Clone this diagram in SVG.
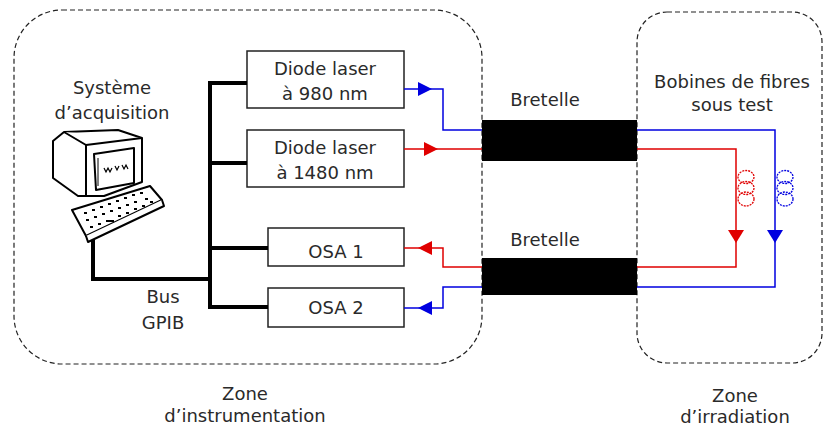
<svg xmlns="http://www.w3.org/2000/svg" width="824" height="428" viewBox="0 0 824 428">
  <defs>
    <style>
      .zone { fill: none; stroke: #222; stroke-width: 1.2; stroke-dasharray: 5 3; }
      .box { fill: #fff; stroke: #222; stroke-width: 1.5; }
      .bus { fill: none; stroke: #000; stroke-width: 4; stroke-linejoin: miter; }
      .lbl { font-family: "DejaVu Sans", Verdana, sans-serif; font-size: 18px; fill: #2a2a2a; text-anchor: middle; }
      .blue { fill: none; stroke: #0000e0; stroke-width: 1.5; }
      .red { fill: none; stroke: #e00000; stroke-width: 1.5; }
      .coilb { fill: none; stroke: #0000e0; stroke-width: 1.3; stroke-dasharray: 2 1; }
      .coilr { fill: none; stroke: #e00000; stroke-width: 1.3; stroke-dasharray: 2 1; }
      .pc { fill: #fff; stroke: #000; stroke-width: 2; stroke-linejoin: round; }
      .key { fill: #000; }
    </style>
  </defs>

  <rect width="824" height="428" fill="#fff"/>

  <!-- zones -->
  <g id="zone-instrumentation">
    <rect class="zone" x="14" y="10" width="468" height="354" rx="48" ry="48"/>
    <text class="lbl" x="245" y="400">Zone</text>
    <text class="lbl" x="245" y="422">d’instrumentation</text>
  </g>
  <g id="zone-irradiation">
    <rect class="zone" x="637" y="12" width="185" height="351" rx="30" ry="30"/>
    <text class="lbl" x="735" y="402">Zone</text>
    <text class="lbl" x="735" y="423">d’irradiation</text>
  </g>

  <!-- computer -->
  <g id="systeme-acquisition">
    <text class="lbl" x="112" y="94">Système</text>
    <text class="lbl" x="112" y="119">d’acquisition</text>
    <!-- monitor housing -->
    <path class="pc" d="M53 141 L64 132 L118 130 L142 138 L142 182 L104 196 L78 196 L53 178 Z"/>
    <path class="pc" d="M64 132 L86 145 L142 138"/>
    <path class="pc" d="M86 145 L86 196"/>
    <!-- screen -->
    <path class="pc" d="M94 154 L134 148 L134 183 L96 190 Z"/>
    <path fill="none" stroke="#000" stroke-width="1" d="M98 158 L98 186"/>
    <path fill="none" stroke="#000" stroke-width="1.2" d="M104 168 l2 4 l2 -4 l2 4 l2 -4 M115 166 l2 4 l2 -4 M122 165 l2 4 l2 -4 l2 4"/>
    <!-- keyboard -->
    <path class="pc" d="M72 210 L150 186 L162 200 L86 236 Z"/>
    <path class="pc" d="M86 236 L88 242 L164 206 L162 200"/>
    <g class="key">
      <rect x="84" y="212" width="3" height="2"/><rect x="92" y="209" width="3" height="2"/><rect x="100" y="206" width="3" height="2"/>
      <rect x="108" y="203" width="3" height="2"/><rect x="116" y="200" width="3" height="2"/><rect x="124" y="197" width="3" height="2"/>
      <rect x="132" y="194" width="3" height="2"/><rect x="140" y="192" width="3" height="2"/>
      <rect x="86" y="219" width="3" height="2"/><rect x="94" y="216" width="3" height="2"/><rect x="102" y="213" width="3" height="2"/>
      <rect x="110" y="210" width="3" height="2"/><rect x="118" y="207" width="3" height="2"/><rect x="126" y="204" width="3" height="2"/>
      <rect x="134" y="201" width="3" height="2"/><rect x="145" y="198" width="3" height="2"/>
      <rect x="90" y="226" width="3" height="2"/><rect x="98" y="223" width="3" height="2"/><rect x="106" y="220" width="8" height="2"/>
      <rect x="118" y="215" width="3" height="2"/><rect x="126" y="212" width="3" height="2"/><rect x="134" y="208" width="3" height="2"/>
      <rect x="142" y="205" width="3" height="2"/><rect x="150" y="201" width="3" height="2"/>
    </g>
  </g>

  <!-- instruments -->
  <g id="diode-980">
    <rect class="box" x="247" y="51" width="157" height="57"/>
    <text class="lbl" x="325" y="75">Diode laser</text>
    <text class="lbl" x="325" y="100">à 980 nm</text>
  </g>
  <g id="diode-1480">
    <rect class="box" x="247" y="130" width="157" height="57"/>
    <text class="lbl" x="325" y="154">Diode laser</text>
    <text class="lbl" x="325" y="179">à 1480 nm</text>
  </g>
  <g id="osa-1">
    <rect class="box" x="268" y="228" width="136" height="38"/>
    <text class="lbl" x="336" y="258">OSA 1</text>
  </g>
  <g id="osa-2">
    <rect class="box" x="268" y="288" width="136" height="39"/>
    <text class="lbl" x="336" y="314">OSA 2</text>
  </g>

  <!-- connectors -->
  <g id="connecteurs">
    <!-- GPIB bus -->
    <path class="bus" d="M247 83 H210 V307 H268"/>
    <path class="bus" d="M210 163 H247"/>
    <path class="bus" d="M210 248 H268"/>
    <path class="bus" d="M93 240 V279 H210"/>

    <!-- 980 nm pump -->
    <path class="blue" d="M404 89 H443 V130 H637 H775 V287 H637 H482 H443 V308 H404"/>
    <!-- 1480 nm pump -->
    <path class="red" d="M404 149 H482 H637 H736 V267 H637 H482 H443 V248 H404"/>

    <!-- arrowheads -->
    <polygon points="418,82 432,89 418,96" fill="#0000e0"/>
    <polygon points="424,142 438,149 424,156" fill="#e00000"/>
    <polygon points="432,241 418,248 432,255" fill="#e00000"/>
    <polygon points="432,301 418,308 432,315" fill="#0000e0"/>
    <polygon points="728,230 744,230 736,243" fill="#e00000"/>
    <polygon points="767,230 783,230 775,243" fill="#0000e0"/>
  </g>

  <!-- patch cords -->
  <g id="bretelle-1">
    <text class="lbl" x="545" y="106">Bretelle</text>
    <rect x="482" y="120" width="155" height="41" fill="#000"/>
  </g>
  <g id="bretelle-2">
    <text class="lbl" x="545" y="246">Bretelle</text>
    <rect x="482" y="258" width="155" height="37" fill="#000"/>
  </g>

  <!-- fibre spools -->
  <g id="bobines">
    <text class="lbl" x="732" y="88">Bobines de fibres</text>
    <text class="lbl" x="732" y="111">sous test</text>
    <g class="coilr">
      <ellipse cx="746" cy="177" rx="8" ry="6.5"/>
      <ellipse cx="746" cy="188" rx="8" ry="6.5"/>
      <ellipse cx="746" cy="199" rx="8" ry="7"/>
    </g>
    <g class="coilb">
      <ellipse cx="785" cy="177" rx="8" ry="6.5"/>
      <ellipse cx="785" cy="188" rx="8" ry="6.5"/>
      <ellipse cx="785" cy="199" rx="8" ry="7"/>
    </g>
  </g>

  <g id="bus-label">
    <text class="lbl" x="163" y="303">Bus</text>
    <text class="lbl" x="163" y="329">GPIB</text>
  </g>
</svg>
